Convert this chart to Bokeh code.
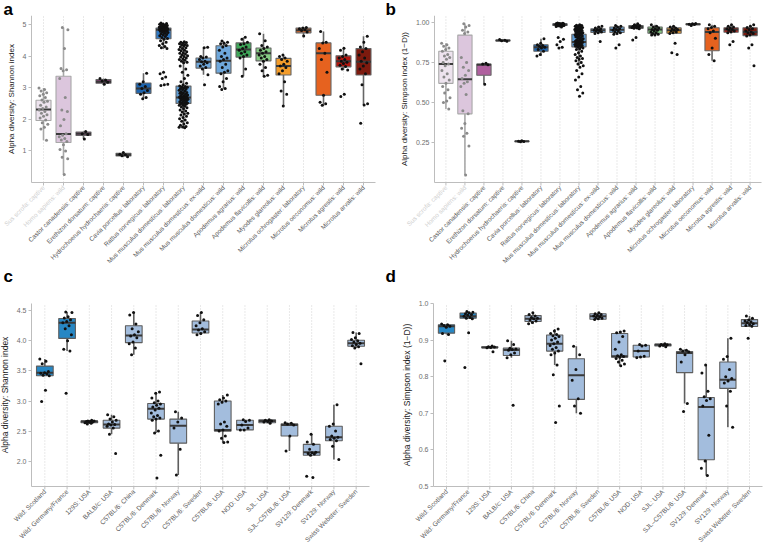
import math
from bokeh.plotting import figure
from bokeh.models import ColumnDataSource, FixedTicker, Range1d, PrintfTickFormatter
from bokeh.layouts import column, row
from bokeh.core.properties import value
from bokeh.embed import file_html
from bokeh.resources import INLINE

FONT = "Liberation Sans"

# ---------------- panel a / b categories ----------------
ab_cats = ["Sus scrofa: captive", "Homo sapiens: wild", "Castor canadensis: captive",
           "Erethizon dorsatum: captive", "Hydrochoerus hydrochaeris: captive",
           "Cavia porcellus: laboratory", "Rattus norvegicus: laboratory",
           "Mus musculus domesticus: laboratory", "Mus musculus domesticus: ex-wild",
           "Mus musculus domesticus: wild", "Apodemus agrarius: wild",
           "Apodemus flavicollis: wild", "Myodes glareolus: wild",
           "Microtus ochrogaster: laboratory", "Microtus oeconomus: wild",
           "Microtus agrestis: wild", "Microtus arvalis: wild"]
ab_fill = ["#ede3ee", "#dcc6dd", "#b0609f", "#7b3f6e", "#3d3d3d", "#1d65b0", "#3079c4",
           "#5e9dd6", "#6fa8dc", "#6fa8dc", "#3fa95a", "#86cc84", "#f39c2a", "#dd6a2c",
           "#e6621f", "#b5160f", "#7d1a0e"]
ab_label_color = ["#d0d0d0", "#d0d0d0"] + ["#5a5a5a"] * 15
ab_point_color = ["#8a8a8a", "#8a8a8a"] + ["#111111"] * 15
ab_outline = ["#a8a8a8", "#a8a8a8"] + ["#666666"] * 15

# Shannon (panel a): box stats
a_q1 = [1.97, 1.27, 1.49, 3.15, 0.84, 2.83, 4.56, 2.51, 3.63, 3.47, 3.98, 3.86, 3.41, 4.75, 2.77, 3.67, 3.41]
a_med = [2.32, 1.54, 1.55, 3.20, 0.88, 2.98, 4.85, 2.70, 3.83, 3.86, 4.22, 4.10, 3.70, 4.83, 4.10, 3.85, 3.83]
a_q3 = [2.61, 3.37, 1.60, 3.27, 0.93, 3.16, 4.90, 3.06, 3.95, 4.34, 4.43, 4.27, 3.94, 4.90, 4.43, 4.02, 4.25]
a_lo = [1.34, 0.25, 1.38, 3.12, 0.82, 2.66, 4.24, 1.74, 3.42, 2.98, 3.37, 3.37, 2.43, 4.65, 2.43, 3.57, 2.46]
a_hi = [3.00, 4.92, 1.62, 3.30, 0.95, 3.47, 5.06, 4.47, 4.29, 4.49, 4.61, 4.72, 4.05, 4.92, 4.79, 4.26, 4.64]
a_points = [
    [3.0, 2.95, 2.9, 2.85, 2.8, 2.75, 2.7, 2.62, 2.58, 2.55, 2.45, 2.4, 2.35, 2.3, 2.25, 2.2, 2.15, 2.1, 2.05, 1.98, 1.9, 1.85, 1.75, 1.7, 1.34],
    [4.92, 4.85, 4.25, 3.62, 3.58, 3.55, 3.3, 2.7, 2.3, 2.25, 2.0, 1.8, 1.55, 1.5, 1.45, 1.4, 1.35, 1.3, 1.2, 1.05, 1.0, 0.8, 0.75, 0.25],
    [1.62, 1.55, 1.52, 1.38],
    [3.3, 3.25, 3.22, 3.18, 3.12],
    [0.95, 0.9, 0.88, 0.85, 0.82],
    [3.47, 3.2, 3.12, 3.05, 2.98, 2.92, 2.85, 2.8, 2.7, 2.66],
    [5.06, 5.05, 5.03, 5.02, 5.0, 5.0, 4.98, 4.97, 4.96, 4.95, 4.94, 4.93, 4.92, 4.92, 4.91, 4.9, 4.9, 4.89, 4.88, 4.88,
     4.87, 4.86, 4.86, 4.85, 4.85, 4.84, 4.83, 4.82, 4.81, 4.8, 4.79, 4.78, 4.76, 4.74, 4.72, 4.7, 4.68, 4.66, 4.63, 4.6,
     4.57, 4.55, 4.5, 4.45, 4.4, 4.35, 4.32, 4.28, 4.25, 3.5, 3.45, 3.35, 3.3, 3.12, 3.1, 3.08],
    [4.47, 4.45, 4.44, 4.42, 4.4, 4.38, 4.36, 4.35, 4.33, 4.3, 4.28, 4.25, 4.22, 4.2, 4.18, 4.15, 4.12, 4.1, 4.08, 4.05,
     4.02, 4.0, 3.98, 3.95, 3.92, 3.9, 3.88, 3.85, 3.82, 3.8, 3.7, 3.6, 3.5, 3.4, 3.3, 3.2, 3.15, 3.1,
     3.06, 3.05, 3.03, 3.02, 3.0, 2.98, 2.96, 2.95, 2.93, 2.9, 2.88, 2.86, 2.85, 2.83, 2.81, 2.8, 2.78, 2.76, 2.75, 2.74,
     2.72, 2.71, 2.7, 2.7, 2.69, 2.68, 2.67, 2.66, 2.65, 2.64, 2.63, 2.62, 2.6, 2.58, 2.56, 2.55, 2.53, 2.52, 2.51, 2.5,
     2.48, 2.46, 2.45, 2.42, 2.4, 2.37, 2.34, 2.3, 2.27, 2.24, 2.2, 2.17, 2.14, 2.1, 2.06, 2.02, 1.98, 1.94, 1.9, 1.86,
     1.82, 1.78, 1.76, 1.75, 1.74],
    [4.29, 4.28, 4.0, 3.98, 3.95, 3.9, 3.85, 3.83, 3.8, 3.75, 3.7, 3.65, 3.6, 3.42, 3.10],
    [4.49, 4.45, 4.42, 4.4, 4.35, 4.3, 4.2, 4.1, 4.0, 3.95, 3.9, 3.85, 3.75, 3.65, 3.55, 3.5, 3.45, 3.3, 3.2, 3.05, 2.98, 2.95],
    [4.61, 4.55, 4.45, 4.4, 4.38, 4.3, 4.25, 4.2, 4.15, 4.1, 4.05, 4.0, 3.95, 3.6, 3.37],
    [4.72, 4.5, 4.35, 4.3, 4.25, 4.2, 4.15, 4.1, 4.05, 4.0, 3.95, 3.9, 3.85, 3.75, 3.65, 3.55, 3.4, 3.37],
    [4.05, 4.0, 3.95, 3.9, 3.85, 3.75, 3.7, 3.65, 3.55, 3.45, 3.2, 2.9, 2.8, 2.43],
    [4.92, 4.9, 4.88, 4.85, 4.82, 4.78, 4.65],
    [4.79, 4.45, 4.43, 4.25, 4.1, 3.9, 3.5, 2.77, 2.55, 2.5, 2.45],
    [4.26, 4.2, 4.05, 4.0, 3.95, 3.9, 3.85, 3.82, 3.78, 3.72, 3.68, 3.6, 3.57, 2.80, 2.73],
    [4.64, 4.45, 4.3, 4.25, 4.15, 4.05, 3.95, 3.85, 3.8, 3.7, 3.6, 3.45, 3.1, 2.5, 2.46, 1.88],
]

# Simpson (panel b): box stats
b_q1 = [0.62, 0.43, 0.67, 0.884, 0.257, 0.82, 0.98, 0.847, 0.936, 0.936, 0.962, 0.932, 0.932, 0.985, 0.823, 0.938, 0.917]
b_med = [0.74, 0.645, 0.735, 0.887, 0.259, 0.845, 0.986, 0.877, 0.95, 0.953, 0.97, 0.955, 0.95, 0.988, 0.939, 0.955, 0.939]
b_q3 = [0.82, 0.92, 0.74, 0.89, 0.261, 0.86, 0.99, 0.925, 0.96, 0.97, 0.98, 0.97, 0.965, 0.99, 0.966, 0.966, 0.966]
b_lo = [0.46, 0.05, 0.615, 0.882, 0.256, 0.79, 0.97, 0.73, 0.93, 0.925, 0.96, 0.92, 0.93, 0.98, 0.76, 0.935, 0.915]
b_hi = [0.87, 0.99, 0.745, 0.892, 0.262, 0.897, 0.995, 0.985, 0.975, 0.98, 0.99, 0.985, 0.975, 0.992, 0.985, 0.985, 0.985]
b_points = [
    [0.87, 0.86, 0.85, 0.84, 0.83, 0.82, 0.8, 0.79, 0.78, 0.77, 0.75, 0.74, 0.73, 0.7, 0.68, 0.66, 0.64, 0.62, 0.6, 0.58, 0.56, 0.53, 0.51, 0.5, 0.46],
    [0.99, 0.98, 0.97, 0.95, 0.94, 0.93, 0.78, 0.75, 0.72, 0.7, 0.67, 0.65, 0.63, 0.62, 0.6, 0.55, 0.45, 0.43, 0.37, 0.34, 0.31, 0.29, 0.23, 0.05],
    [0.745, 0.74, 0.735, 0.615],
    [0.892, 0.888, 0.885, 0.882],
    [0.262, 0.26, 0.258, 0.256],
    [0.897, 0.87, 0.86, 0.855, 0.85, 0.845, 0.84, 0.83, 0.82, 0.8, 0.79],
    [0.995, 0.994, 0.993, 0.992, 0.991, 0.99, 0.99, 0.989, 0.988, 0.988, 0.987, 0.986, 0.986, 0.985, 0.985, 0.984, 0.983,
     0.982, 0.981, 0.98, 0.98, 0.979, 0.978, 0.976, 0.974, 0.97, 0.905, 0.895, 0.88, 0.86, 0.845, 0.84],
    [0.985, 0.982, 0.98, 0.978, 0.975, 0.972, 0.97, 0.968, 0.965, 0.962, 0.96, 0.958, 0.955, 0.952, 0.95, 0.948, 0.945,
     0.942, 0.94, 0.938, 0.935, 0.932, 0.93, 0.928, 0.925, 0.922, 0.92, 0.918, 0.915, 0.912, 0.91, 0.905, 0.9, 0.898,
     0.895, 0.89, 0.888, 0.885, 0.882, 0.88, 0.878, 0.875, 0.872, 0.87, 0.868, 0.865, 0.862, 0.86, 0.858, 0.855, 0.852,
     0.85, 0.848, 0.845, 0.84, 0.835, 0.83, 0.82, 0.81, 0.8, 0.79, 0.78, 0.775, 0.77, 0.76, 0.75, 0.74, 0.73, 0.72, 0.7,
     0.68, 0.66, 0.64, 0.6, 0.58, 0.56, 0.54],
    [0.975, 0.97, 0.965, 0.96, 0.955, 0.95, 0.948, 0.945, 0.94, 0.935, 0.93, 0.88],
    [0.98, 0.975, 0.97, 0.965, 0.96, 0.955, 0.95, 0.945, 0.94, 0.935, 0.93, 0.925, 0.86, 0.84],
    [0.99, 0.985, 0.98, 0.978, 0.975, 0.972, 0.97, 0.968, 0.965, 0.962, 0.96, 0.905, 0.89],
    [0.985, 0.975, 0.97, 0.965, 0.96, 0.955, 0.95, 0.945, 0.94, 0.935, 0.93, 0.925, 0.92, 0.92],
    [0.975, 0.97, 0.965, 0.96, 0.955, 0.95, 0.945, 0.94, 0.935, 0.93, 0.87, 0.81, 0.80],
    [0.992, 0.99, 0.988, 0.986, 0.98],
    [0.985, 0.975, 0.968, 0.96, 0.945, 0.935, 0.9, 0.84, 0.8, 0.76],
    [0.985, 0.975, 0.97, 0.965, 0.96, 0.955, 0.95, 0.945, 0.94, 0.935, 0.88, 0.86],
    [0.985, 0.975, 0.968, 0.96, 0.955, 0.945, 0.94, 0.935, 0.93, 0.92, 0.915, 0.86, 0.84, 0.73],
]

# ---------------- panel c / d categories ----------------
cd_cats = ["Wild: Scotland", "Wild: Germany/France", "129S: USA", "BALB/c: USA", "C57BL/6: China",
           "C57BL/6: Denmark", "C57BL/6: Norway", "C57BL/6: Sweden", "C57BL/6: USA", "NOD: USA",
           "SJL: USA", "SJL\u2013C57BL/6: USA", "SV129: Denmark", "SV129: Norway",
           "Swiss Webster: Sweden"]
cd_fill = ["#2787c4", "#2787c4"] + ["#a3bddd"] * 13
cd_label_color = ["#5a5a5a"] * 15
cd_point_color = ["#111111"] * 15
cd_outline = ["#5e5e5e"] * 15

c_q1 = [3.42, 4.04, 2.64, 2.55, 3.97, 2.70, 2.30, 4.13, 2.50, 2.52, 2.64, 2.42, 2.10, 2.34, 3.91]
c_med = [3.47, 4.30, 2.66, 2.61, 4.09, 2.87, 2.59, 4.19, 2.52, 2.60, 2.67, 2.60, 2.15, 2.40, 3.96]
c_q3 = [3.58, 4.37, 2.67, 2.68, 4.25, 2.96, 2.70, 4.33, 3.00, 2.68, 2.69, 2.62, 2.28, 2.58, 4.01]
c_lo = [3.42, 3.83, 2.62, 2.45, 3.77, 2.47, 1.77, 4.10, 2.31, 2.52, 2.63, 2.17, 2.10, 2.03, 3.88]
c_hi = [3.70, 4.48, 2.68, 2.77, 4.47, 3.15, 2.82, 4.47, 3.10, 2.69, 2.69, 2.64, 2.45, 2.94, 4.14]
c_points = [
    [3.70, 3.66, 3.62, 3.49, 3.47, 3.46, 3.45, 3.43, 3.42, 3.18, 2.99],
    [4.48, 4.47, 4.40, 4.38, 4.35, 4.32, 4.30, 4.25, 4.20, 4.10, 4.0, 3.86, 3.83, 3.13],
    [2.68, 2.67, 2.67, 2.66, 2.66, 2.65, 2.65, 2.64, 2.63, 2.62],
    [2.77, 2.74, 2.70, 2.68, 2.65, 2.62, 2.61, 2.60, 2.58, 2.55, 2.45, 2.13],
    [4.47, 4.43, 4.28, 4.20, 4.15, 4.10, 4.08, 4.05, 3.98, 3.95, 3.88, 3.77],
    [3.15, 3.13, 3.05, 3.00, 2.97, 2.95, 2.93, 2.90, 2.88, 2.85, 2.80, 2.76, 2.74, 2.72, 2.70, 2.68, 2.50, 2.47, 2.10, 1.72],
    [2.82, 2.72, 2.65, 2.55, 2.20, 1.77],
    [4.47, 4.42, 4.35, 4.30, 4.25, 4.20, 4.18, 4.15, 4.12, 4.10],
    [3.10, 3.05, 3.02, 3.0, 2.98, 2.95, 2.65, 2.62, 2.58, 2.52, 2.50, 2.42, 2.38, 2.32, 2.31],
    [2.69, 2.68, 2.66, 2.60, 2.55, 2.52, 2.52],
    [2.69, 2.68, 2.67, 2.66, 2.65, 2.63],
    [2.64, 2.63, 2.62, 2.60, 2.42, 2.17],
    [2.45, 2.32, 2.28, 2.20, 2.15, 2.14, 2.13, 2.12, 2.10, 1.75, 1.73],
    [2.94, 2.62, 2.58, 2.50, 2.42, 2.40, 2.38, 2.36, 2.34, 2.25, 2.03],
    [4.14, 4.12, 4.05, 4.02, 4.0, 3.98, 3.96, 3.94, 3.92, 3.90, 3.88, 3.62],
]

d_q1 = [0.919, 0.960, 0.879, 0.858, 0.951, 0.870, 0.738, 0.957, 0.853, 0.854, 0.884, 0.811, 0.573, 0.768, 0.937]
d_med = [0.938, 0.965, 0.880, 0.873, 0.958, 0.890, 0.804, 0.965, 0.856, 0.870, 0.887, 0.865, 0.717, 0.792, 0.946]
d_q3 = [0.942, 0.974, 0.882, 0.878, 0.967, 0.914, 0.849, 0.972, 0.918, 0.886, 0.889, 0.869, 0.743, 0.840, 0.956]
d_lo = [0.915, 0.958, 0.879, 0.852, 0.945, 0.832, 0.700, 0.956, 0.830, 0.852, 0.882, 0.727, 0.530, 0.662, 0.937]
d_hi = [0.944, 0.978, 0.884, 0.898, 0.975, 0.930, 0.883, 0.975, 0.925, 0.888, 0.890, 0.875, 0.832, 0.905, 0.966]
d_points = [
    [0.944, 0.942, 0.94, 0.938, 0.935, 0.918, 0.915, 0.843],
    [0.978, 0.976, 0.975, 0.972, 0.97, 0.968, 0.965, 0.962, 0.96, 0.958, 0.92, 0.825],
    [0.884, 0.882, 0.881, 0.88, 0.879, 0.868],
    [0.898, 0.888, 0.878, 0.876, 0.874, 0.872, 0.865, 0.86, 0.852, 0.722],
    [0.975, 0.97, 0.966, 0.962, 0.96, 0.958, 0.955, 0.952, 0.948, 0.945],
    [0.93, 0.925, 0.918, 0.915, 0.912, 0.91, 0.905, 0.9, 0.895, 0.89, 0.885, 0.88, 0.875, 0.87, 0.865, 0.86, 0.832, 0.805, 0.72, 0.675],
    [0.883, 0.86, 0.82, 0.79, 0.74, 0.72, 0.70],
    [0.975, 0.972, 0.97, 0.968, 0.966, 0.964, 0.962, 0.96, 0.958, 0.956],
    [0.925, 0.922, 0.92, 0.91, 0.895, 0.875, 0.86, 0.857, 0.855, 0.853, 0.85, 0.845, 0.84, 0.835, 0.83],
    [0.888, 0.886, 0.884, 0.87, 0.856, 0.854, 0.852],
    [0.89, 0.888, 0.887, 0.886, 0.884, 0.882],
    [0.875, 0.872, 0.87, 0.868, 0.86, 0.84, 0.727, 0.705],
    [0.832, 0.81, 0.76, 0.745, 0.74, 0.735, 0.72, 0.64, 0.57, 0.55, 0.53],
    [0.905, 0.855, 0.848, 0.82, 0.80, 0.795, 0.788, 0.783, 0.76, 0.72, 0.662],
    [0.966, 0.96, 0.955, 0.952, 0.95, 0.948, 0.945, 0.942, 0.94, 0.938, 0.905],
]

AXIS_COL = "#bdbdbd"


def make_panel(letter, cats, q1, med, q3, lo, hi, pts, fills, lab_cols, pt_cols, outl,
               ylabel, ylim, yticks, yfmt, bl, br, fw, pad_px, data_px, lab_px,
               lab_size, ylab_size):
    n = len(cats)
    xs = list(range(1, n + 1))
    y0, y1 = ylim
    dpp = (y1 - y0) / data_px            # data units per pixel (vertical)
    xpp = (n + 0.2) / fw                 # data units per pixel (horizontal)
    p = figure(frame_width=bl + fw + br, frame_height=pad_px + data_px + lab_px,
               output_backend="svg", toolbar_location=None,
               x_range=Range1d(0.4 - bl * xpp, n + 0.6 + br * xpp),
               y_range=Range1d(y0 - lab_px * dpp, y1 + pad_px * dpp),
               min_border_left=0, min_border_right=0, min_border_top=0,
               min_border_bottom=0)
    p.outline_line_color = None
    p.background_fill_color = "white"
    p.border_fill_color = "white"
    p.xgrid.visible = False
    p.ygrid.visible = False
    p.xaxis.visible = False

    # panel letter
    p.title.text = letter
    p.title.align = "left"
    p.title.offset = 3
    p.title.standoff = -6
    p.title.text_font = FONT
    p.title.text_font_size = "17px"
    p.title.text_font_style = "bold"
    p.title.text_color = "black"

    # y axis (library axis, placed at the left end of the category range)
    ax = p.yaxis[0]
    ax.fixed_location = 0.4
    ax.bounds = (y0, y1)
    ax.axis_line_color = AXIS_COL
    ax.major_tick_line_color = AXIS_COL
    ax.major_tick_out = 3
    ax.major_tick_in = 0
    ax.minor_tick_line_color = None
    ax.ticker = FixedTicker(ticks=yticks)
    ax.formatter = PrintfTickFormatter(format=yfmt)
    ax.major_label_text_font = FONT
    ax.major_label_text_color = "#6e6e6e"
    ax.major_label_text_font_size = "7px"
    ax.major_label_standoff = 2
    ax.axis_label = ylabel
    ax.axis_label_text_font = FONT
    ax.axis_label_text_font_style = "normal"
    ax.axis_label_text_font_size = ylab_size
    ax.axis_label_text_color = "#222222"
    ax.axis_label_standoff = 4

    # category axis drawn with glyphs so that each label can keep its own colour
    cat = ColumnDataSource(dict(x=xs, ya=[y0] * n, yb=[y1] * n, yt=[y0 - 3 * dpp] * n,
                                yl=[y0 - 4 * dpp] * n, text=cats, color=lab_cols))
    p.segment(x0="x", x1="x", y0="ya", y1="yb", source=cat, line_color="#d2d2d2",
              line_width=1, line_dash="1 2")
    p.segment(x0=0.4, x1=n + 0.6, y0=y0, y1=y0, line_color=AXIS_COL, line_width=1)
    p.segment(x0="x", x1="x", y0="ya", y1="yt", source=cat, line_color=AXIS_COL, line_width=1)
    p.text(x="x", y="yl", text="text", source=cat, angle=math.pi / 4,
           text_align="right", text_baseline="middle", text_font=value(FONT),
           text_font_size=lab_size, text_color="color")

    half = 0.375
    box = ColumnDataSource(dict(x=xs, q1=q1, med=med, q3=q3, lo=lo, hi=hi,
                                fill=fills, line=outl,
                                x0=[x - half for x in xs], x1=[x + half for x in xs]))
    p.segment(x0="x", x1="x", y0="q3", y1="hi", source=box, line_color="line", line_width=1.6)
    p.segment(x0="x", x1="x", y0="lo", y1="q1", source=box, line_color="line", line_width=1.6)
    p.vbar(x="x", width=0.75, bottom="q1", top="q3", source=box, fill_color="fill",
           line_color="line", line_width=1.1)
    p.segment(x0="x0", x1="x1", y0="med", y1="med", source=box, line_color="#3a3a3a",
              line_width=2)

    px, py, pc = [], [], []
    for i, vals in enumerate(pts):
        for k, v in enumerate(vals):
            off = ((k * 0.618034 + i * 0.37) % 1.0 - 0.5) * 0.45
            px.append(xs[i] + off)
            py.append(v)
            pc.append(pt_cols[i])
    p.scatter(x=px, y=py, size=3, color=pc, line_width=0)
    return p


pa = make_panel("a", ab_cats, a_q1, a_med, a_q3, a_lo, a_hi, a_points, ab_fill, ab_label_color,
                ab_point_color, ab_outline, "Alpha diversity: Shannon index",
                (0.0, 5.30), [1, 2, 3, 4, 5], "%d", 31, 7, 344, 0, 167, 85, "6.4px", "8px")
pb = make_panel("b", ab_cats, b_q1, b_med, b_q3, b_lo, b_hi, b_points, ab_fill, ab_label_color,
                ab_point_color, ab_outline, "Alpha diversity: Simpson index (1\u2212D))",
                (0.003, 1.042), [0.25, 0.5, 0.75, 1.0], "%.2f", 52, 2, 327, 0, 167, 85,
                "6.4px", "8px")
pc = make_panel("c", cd_cats, c_q1, c_med, c_q3, c_lo, c_hi, c_points, cd_fill, cd_label_color,
                cd_point_color, cd_outline, "Alpha diversity: Shannon index",
                (1.58, 4.62), [2.0, 2.5, 3.0, 3.5, 4.0, 4.5], "%.1f", 31, 13, 338, 21, 183, 56,
                "6.6px", "8.5px")
pd_ = make_panel("d", cd_cats, d_q1, d_med, d_q3, d_lo, d_hi, d_points, cd_fill, cd_label_color,
                 cd_point_color, cd_outline, "Alpha diversity: Simpson index (1\u2212D))",
                 (0.5, 1.0), [0.5, 0.6, 0.7, 0.8, 0.9, 1.0], "%.1f", 51, 1, 329, 21, 183, 56,
                 "6.6px", "8.5px")

layout = column(row(pa, pb), row(pc, pd_))
open("out.html", "w").write(file_html(layout, INLINE))
